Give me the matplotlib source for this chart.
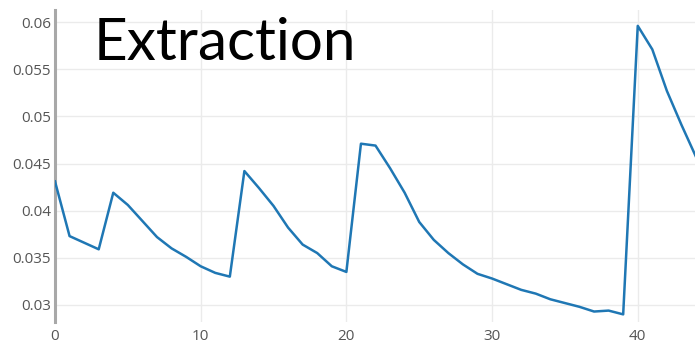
import matplotlib
matplotlib.use("Agg")
import matplotlib.pyplot as plt

# Extraction values per step
steps = list(range(0, 45))
extraction = [
    0.0431, 0.0373, 0.0366, 0.0359, 0.0419, 0.0406, 0.0389, 0.0372, 0.0360, 0.0351,
    0.0341, 0.0334, 0.0330, 0.0442, 0.0424, 0.0405, 0.0382, 0.0364, 0.0355, 0.0341,
    0.0335, 0.0471, 0.0469, 0.0445, 0.0419, 0.0388, 0.0369, 0.0355, 0.0343, 0.0333,
    0.0328, 0.0322, 0.0316, 0.0312, 0.0306, 0.0302, 0.0298, 0.0293, 0.0294, 0.0290,
    0.0596, 0.0571, 0.0527, 0.0491, 0.0457,
]
x_ticks = [0, 10, 20, 30, 40]
y_ticks = [0.03, 0.035, 0.04, 0.045, 0.05, 0.055, 0.06]
y_tick_labels = ["0.03", "0.035", "0.04", "0.045", "0.05", "0.055", "0.06"]

fig = plt.figure(figsize=(6.95, 3.48), dpi=100)
ax = fig.add_axes([55 / 695, 26 / 348, 1 - 55 / 695, (322 - 10) / 348])

ax.plot(steps, extraction, color="#1f77b4", linewidth=1.8, solid_joinstyle="round", zorder=3)

ax.set_xlim(0, 43.93)
ax.set_ylim(0.02819, 0.06128)
ax.set_xticks(x_ticks)
ax.set_xticklabels([str(t) for t in x_ticks])
ax.set_yticks(y_ticks)
ax.set_yticklabels(y_tick_labels)

ax.grid(True, color="#ebebeb", linewidth=1.0, zorder=0)
for side in ("top", "right", "bottom"):
    ax.spines[side].set_visible(False)
ax.spines["left"].set_color("#a8a8a8")
ax.spines["left"].set_linewidth(2.2)
ax.tick_params(axis="y", length=0, labelsize=11, labelcolor="#555555", pad=3)
ax.tick_params(axis="x", length=0, labelsize=11, labelcolor="#555555", pad=5)
for lab in ax.get_xticklabels() + ax.get_yticklabels():
    lab.set_fontfamily("Open Sans")

fig.text(94 / 695, 1 - 60 / 348, "Extraction", fontsize=42, family="Lato",
         color="black", va="baseline", ha="left")

fig.savefig("out.png", dpi=100)
